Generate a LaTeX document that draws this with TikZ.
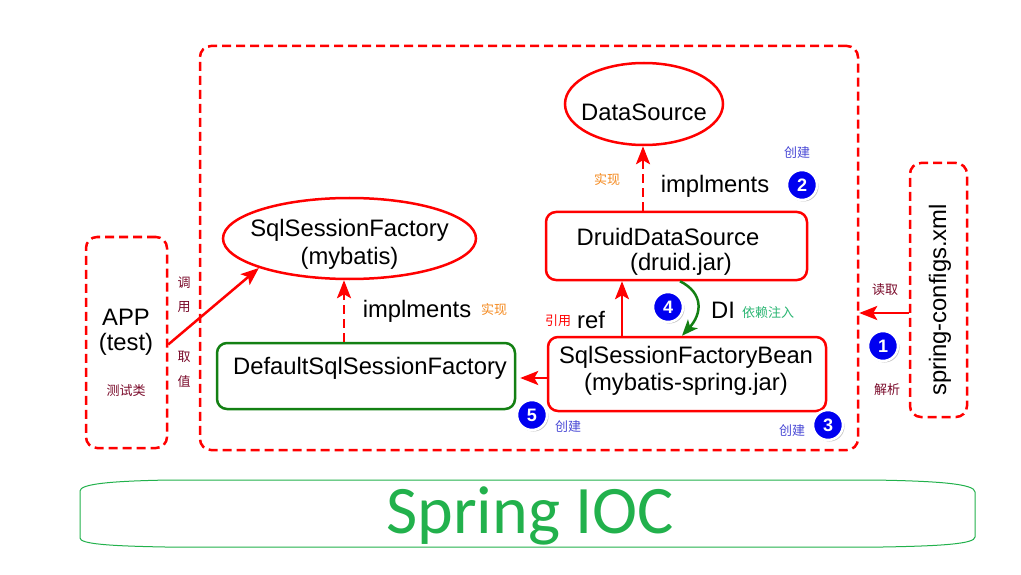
\documentclass[tikz,border=0pt]{standalone}
\usepackage{fontspec}
\setmainfont{Liberation Sans}
\newfontfamily\cjk{Noto Sans CJK SC}
\newfontfamily\iocfont{Carlito}
\usetikzlibrary{arrows.meta,shapes.geometric,shadows}
\definecolor{myred}{HTML}{FF0000}
\definecolor{boxgreen}{HTML}{138013}
\definecolor{iocgreen}{HTML}{22B14C}
\definecolor{maroon}{HTML}{7A0A2A}
\definecolor{orangec}{HTML}{F58A1F}
\definecolor{bluec}{HTML}{4B4BD6}
\definecolor{tealc}{HTML}{2BB673}
\definecolor{numblue}{HTML}{0000F0}
\begin{document}
\begin{tikzpicture}[x=1pt,y=-1pt,
  big/.style={font=\fontsize{23.8}{28}\selectfont, inner sep=0pt},
  cn/.style={font=\cjk\fontsize{13}{15}\selectfont, inner sep=0pt},
  redbox/.style={draw=myred, line width=2.5pt, rounded corners=10pt, rectangle},
  dashbox/.style={draw=myred, line width=2.5pt, rounded corners=11pt, rectangle, dash pattern=on 9pt off 5pt},
  greenbox/.style={draw=boxgreen, line width=2.5pt, rounded corners=10pt, rectangle},
  oval/.style={draw=myred, line width=2.5pt, ellipse, inner sep=0pt},
  redarrow/.style={draw=myred, line width=2.5pt, -{Stealth[length=18pt,width=14pt,inset=4pt]}},
  dasharrow/.style={redarrow, dash pattern=on 9pt off 5pt},
  greenarrow/.style={draw=boxgreen, line width=2.5pt, -{Stealth[length=16pt,width=13pt,inset=4pt]}},
  num/.style={circle, fill=numblue, draw=white, line width=2.5pt, minimum size=30pt, inner sep=0pt, text=white, font=\bfseries\fontsize{18}{20}\selectfont, drop shadow={opacity=0.45, shadow xshift=1.5pt, shadow yshift=-1.5pt}}
]
\useasboundingbox (0,0) rectangle (1021,575);
\fill[white] (0,0) rectangle (1021,575);

% containers
\node[dashbox, minimum width=658pt, minimum height=404pt] (ioc) at (529,248) {};
\node[dashbox, minimum width=81pt, minimum height=211pt] (app) at (126.5,342.5) {};
\node[dashbox, minimum width=57pt, minimum height=254pt] (cfg) at (938.5,290) {};

% APP texts
\node[big] (apptxt) at (126,317) {APP};
\node[big] (apptest) at (126,344) {(test)};
\node[cn, text=maroon] (appcn) at (126,391) {测试类};

% spring-configs
\node[big, rotate=90] (cfgtxt) at (940,300) {spring-configs.xml};
\node[cn, text=maroon] (read) at (885,290) {读取};
\node[cn, text=maroon] (parse) at (887,390) {解析};

% ellipses
\node[oval, minimum width=158pt, minimum height=82pt] (ds) at (644,104) {};
\node[big] (dstxt) at (644,112) {DataSource};
\node[oval, minimum width=253pt, minimum height=81pt] (ssf) at (349.5,238.5) {};
\node[big] (ssf1) at (349.5,230) {SqlSessionFactory};
\node[big] (ssf2) at (349.5,258) {(mybatis)};

% boxes
\node[redbox, minimum width=261pt, minimum height=68pt] (druid) at (676.5,246) {};
\node[big] (druid1) at (668,237) {DruidDataSource};
\node[big] (druid2) at (681,264) {(druid.jar)};
\node[redbox, minimum width=278pt, minimum height=74pt] (bean) at (687,374) {};
\node[big] (bean1) at (686,357) {SqlSessionFactoryBean};
\node[big] (bean2) at (686,384) {(mybatis-spring.jar)};
\node[greenbox, minimum width=298pt, minimum height=66pt] (dssf) at (366,376) {};
\node[big] (dssf1) at (370,368) {DefaultSqlSessionFactory};

% labels
\node[cn, text=bluec] (c2) at (797,153) {创建};
\node[cn, text=orangec] (s1) at (607,180) {实现};
\node[big] (impl1) at (715,186) {implments};
\node[big] (impl2) at (417,311) {implments};
\node[cn, text=orangec] (s2) at (494,310) {实现};
\node[cn, text=myred] (yy) at (558,321) {引用};
\node[big] (ref) at (591,320) {ref};
\node[big] (di) at (723,310) {DI};
\node[cn, text=tealc] (yl) at (768,313) {依赖注入};
\node[cn, text=bluec] (c5) at (568,427) {创建};
\node[cn, text=bluec] (c3) at (792,431) {创建};
\node[cn, text=maroon] (t1) at (184,283) {调};
\node[cn, text=maroon] (t2) at (184,307) {用};
\node[cn, text=maroon] (t3) at (184,357) {取};
\node[cn, text=maroon] (t4) at (184,382) {值};

% numbers
\node[num] (n1) at (883,346) {1};
\node[num] (n2) at (802,185) {2};
\node[num] (n3) at (828,425) {3};
\node[num] (n4) at (668,307) {4};
\node[num] (n5) at (532,415) {5};

% connectors
\draw[redarrow] ([yshift=-23pt]cfg.west) -- ([yshift=-23pt]cfg.west -| ioc.east);
\draw[redarrow] ([yshift=-2pt]app.east) -- (ssf.198);
\draw[dasharrow] ([xshift=-22pt]dssf.north) -- ([xshift=-22pt]dssf.north |- ssf.south);
\draw[dasharrow] ([xshift=-33.5pt]druid.north) -- ([xshift=-33.5pt]druid.north |- ds.south);
\draw[redarrow] ([xshift=-65pt]bean.north) -- ([xshift=-65pt]bean.north |- druid.south);
\draw[redarrow, shorten >=4pt] ([yshift=-4pt]bean.west) -- ([yshift=-4pt]bean.west -| dssf.east);
\draw[greenarrow] ([xshift=3.5pt]druid.south) .. controls +(24,12) and +(20,-22) .. ([xshift=-5pt]bean.north);

% Spring IOC
\draw[iocgreen, line width=1pt] (170,480) -- (872,480) .. controls (940,481) and (975,484) .. (975,492) -- (975,537) .. controls (975,544) and (940,546) .. (883,547) -- (165,547) .. controls (110,546) and (80,544) .. (80,538) -- (80,491) .. controls (80,484) and (110,481) .. (170,480) -- cycle;
\node[font=\iocfont\fontsize{68}{70}\selectfont, text=iocgreen, anchor=base, inner sep=0pt] (ioclabel) at (530,533) {Spring IOC};
\end{tikzpicture}
\end{document}
